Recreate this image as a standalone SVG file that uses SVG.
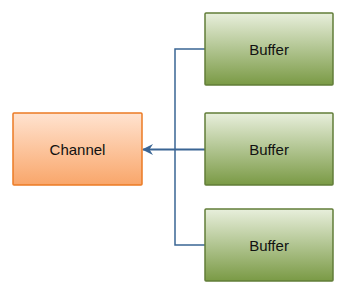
<svg xmlns="http://www.w3.org/2000/svg" width="348" height="298" viewBox="0 0 348 298">
<defs>
<linearGradient id="gO" x1="0" y1="0" x2="0" y2="1">
<stop offset="0" stop-color="#FFE3D0"/>
<stop offset="1" stop-color="#F9A66A"/>
</linearGradient>
<linearGradient id="gG" x1="0" y1="0" x2="0" y2="1">
<stop offset="0" stop-color="#E8EFDC"/>
<stop offset="1" stop-color="#7A9A45"/>
</linearGradient>
<marker id="arr" markerWidth="11" markerHeight="11" refX="10" refY="5.5" orient="auto" markerUnits="userSpaceOnUse">
<path d="M0,0 L11,5.5 L0,11 L3.5,5.5 Z" fill="#3A6594"/>
</marker>
<style>
.buf{fill:url(#gG);stroke:#627D38;stroke-width:1.5}
.ch{fill:url(#gO);stroke:#EC7B24;stroke-width:1.5}
.t{font-family:"Liberation Sans",Arial,sans-serif;font-size:15px;fill:#111;text-anchor:middle;dominant-baseline:central}
.c{fill:none;stroke:#3A6594;stroke-width:1.5}
.m{stroke-width:2.2}
</style>
</defs>
<g id="connectors">
<path class="c" d="M205,49 H175 V245 H205"/>
<path class="c m" d="M205,149.5 H143" marker-end="url(#arr)"/>
</g>
<g id="channel">
<rect class="ch" x="13" y="113" width="129" height="72" rx="1"/>
<text class="t" x="77.5" y="149">Channel</text>
</g>
<g id="buffer1">
<rect class="buf" x="205" y="13" width="128" height="72" rx="1"/>
<text class="t" x="269" y="49">Buffer</text>
</g>
<g id="buffer2">
<rect class="buf" x="205" y="113" width="128" height="72" rx="1"/>
<text class="t" x="269" y="149">Buffer</text>
</g>
<g id="buffer3">
<rect class="buf" x="205" y="209" width="128" height="72" rx="1"/>
<text class="t" x="269" y="245">Buffer</text>
</g>
</svg>
